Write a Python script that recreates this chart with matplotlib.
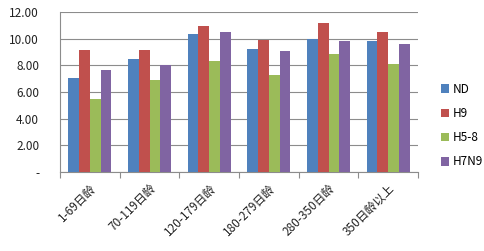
import matplotlib
matplotlib.use("Agg")
import matplotlib.pyplot as plt
import numpy as np

plt.rcParams['font.family'] = ['Noto Sans CJK SC', 'DejaVu Sans']

categories = ["1-69日龄", "70-119日龄", "120-179日龄", "180-279日龄", "280-350日龄", "350日龄以上"]
series_names = ["ND", "H9", "H5-8", "H7N9"]
nd = [7.05, 8.46, 10.33, 9.21, 10.00, 9.81]
h9 = [9.14, 9.14, 10.93, 9.88, 11.15, 10.48]
h58 = [5.48, 6.90, 8.31, 7.27, 8.84, 8.09]
h7n9 = [7.64, 7.99, 10.48, 9.06, 9.81, 9.61]
yticks = [0, 2, 4, 6, 8, 10, 12]
ytick_labels = ["-", "2.00", "4.00", "6.00", "8.00", "10.00", "12.00"]

colors = ["#4F81BD", "#C0504D", "#9BBB59", "#8064A2"]

fig = plt.figure(figsize=4.85 * np.array([1, 251 / 485]), dpi=100)
ax = fig.add_axes([60 / 485, 1 - 172 / 251, (418 - 60) / 485, (172 - 12) / 251])

x = np.arange(len(categories))
w = 0.18
for i, (vals, name) in enumerate(zip([nd, h9, h58, h7n9], series_names)):
    ax.bar(x + (i - 1.5) * w, vals, width=w, color=colors[i], label=name, zorder=3)

ax.set_xlim(-0.5, len(categories) - 0.5)
ax.set_ylim(0, 12)
ax.set_yticks(yticks)
ax.set_yticklabels(ytick_labels, fontsize=8.5, color="#222222")
ax.tick_params(axis='y', length=0, pad=15)
ax.yaxis.grid(True, color="#8c8c8c", linewidth=0.8, zorder=0)

ax.set_xticks(np.arange(-0.5, len(categories), 1.0), minor=False)
ax.set_xticklabels([])
ax.tick_params(axis='x', which='major', length=4, color="#8c8c8c", direction='out')
ax.set_xticks(x, minor=True)
ax.set_xticklabels(categories, minor=True, rotation=45, ha='right', va='top',
                   rotation_mode='anchor', fontsize=8.5, color="#222222")
ax.tick_params(axis='x', which='minor', length=0, pad=7)

for s in ['top', 'right']:
    ax.spines[s].set_visible(False)
for s in ['left', 'bottom']:
    ax.spines[s].set_color("#8c8c8c")
    ax.spines[s].set_linewidth(0.8)

ax.legend(loc='center left', bbox_to_anchor=(1.05, 0.29), frameon=False,
          fontsize=8.5, handlelength=0.75, handleheight=0.75, handletextpad=0.25,
          labelspacing=0.95, borderaxespad=0)

fig.savefig("out.png", dpi=100)
